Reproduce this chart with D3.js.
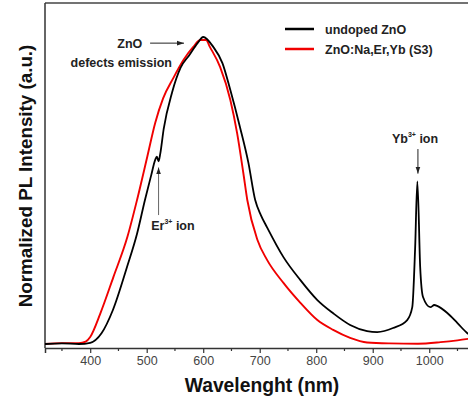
<!DOCTYPE html>
<html>
<head>
<meta charset="utf-8">
<script src="https://cdn.jsdelivr.net/npm/d3@7"></script>
<style>
  body { margin: 0; background: #fff; }
  svg text { font-family: "Liberation Sans", Arial, sans-serif; }
</style>
</head>
<body>
<svg id="chart"></svg>
<script>
// wavelength (nm) and normalized intensity
var undopedWl = [320, 350, 380, 400, 420, 440, 465, 483, 497, 508, 515, 518, 521, 524, 530, 545, 560, 575, 590, 600, 618, 634, 648, 665, 680, 692, 702, 713, 742, 772, 802, 830, 860, 890, 908, 936, 961, 970, 975, 979, 984, 989, 1002, 1009, 1014, 1032, 1050, 1067, 1080];
var undopedI  = [0.0, 0.002, 0.0, 0.004, 0.035, 0.11, 0.25, 0.36, 0.47, 0.55, 0.6, 0.61, 0.595, 0.62, 0.7, 0.82, 0.9, 0.94, 0.98, 1.0, 0.967, 0.915, 0.827, 0.707, 0.59, 0.469, 0.42, 0.38, 0.283, 0.208, 0.143, 0.1, 0.062, 0.042, 0.039, 0.052, 0.078, 0.12, 0.31, 0.53, 0.25, 0.153, 0.12, 0.127, 0.124, 0.101, 0.068, 0.036, 0.02];

var dopedWl = [320, 350, 380, 392, 400, 418, 441, 466, 483, 501, 515, 529, 547, 565, 582, 595, 605, 612, 630, 648, 660, 671, 678, 696, 713, 742, 772, 802, 830, 860, 890, 930, 980, 1020, 1050, 1080];
var dopedI  = [0.0, 0.003, 0.003, 0.008, 0.023, 0.1, 0.218, 0.35, 0.47, 0.61, 0.72, 0.8, 0.866, 0.925, 0.967, 0.99, 0.99, 0.967, 0.902, 0.795, 0.687, 0.557, 0.469, 0.339, 0.274, 0.199, 0.134, 0.078, 0.046, 0.02, 0.005, 0.002, 0.001, 0.006, 0.012, 0.02];

var seriesNames = ["undoped ZnO", "ZnO:Na,Er,Yb (S3)"];
var seriesColors = ["#000000", "#f00000"];
var majorTicks = [400, 500, 600, 700, 800, 900, 1000];
var minorTicks = [350, 450, 550, 650, 750, 850, 950, 1050];

var width = 468, height = 400;
var plotLeft = 45, plotRight = 475, plotTop = 3, plotBottom = 348;

var svg = d3.select("#chart").attr("width", width).attr("height", height);

var x = d3.scaleLinear().domain([320, 1081]).range([plotLeft, plotRight]);
var y = d3.scaleLinear().domain([-0.013, 1.1107]).range([plotBottom, plotTop]);

var line = d3.line()
  .x(function (d) { return x(d[0]); })
  .y(function (d) { return y(d[1]); })
  .curve(d3.curveMonotoneX);

var undoped = undopedWl.map(function (w, i) { return [w, undopedI[i]]; });
var doped = dopedWl.map(function (w, i) { return [w, dopedI[i]]; });

// frame
svg.append("line").attr("x1", plotLeft).attr("x2", width).attr("y1", plotTop).attr("y2", plotTop)
  .attr("stroke", "#444").attr("stroke-width", 1.6);
svg.append("line").attr("x1", plotLeft).attr("x2", plotLeft).attr("y1", plotTop).attr("y2", plotBottom)
  .attr("stroke", "#333").attr("stroke-width", 1.5);

// curves
svg.append("path").datum(doped).attr("d", line)
  .attr("fill", "none").attr("stroke", seriesColors[1]).attr("stroke-width", 1.9);
svg.append("path").datum(undoped).attr("d", line)
  .attr("fill", "none").attr("stroke", seriesColors[0]).attr("stroke-width", 1.8);

// x axis
var xAxis = svg.append("g").attr("transform", "translate(0," + plotBottom + ")");
xAxis.call(d3.axisBottom(x).tickValues(majorTicks).tickSize(5).tickFormat(d3.format("d")));
xAxis.select(".domain").attr("stroke", "#333").attr("stroke-width", 1.5);
xAxis.selectAll(".tick line").attr("stroke", "#333").attr("stroke-width", 1.2);
xAxis.selectAll(".tick text").attr("fill", "#444").attr("font-size", 12.5).attr("y", 8)
  .attr("font-family", "Liberation Sans, Arial, sans-serif");
xAxis.selectAll(".minor").data(minorTicks).enter().append("line")
  .attr("x1", function (d) { return x(d); }).attr("x2", function (d) { return x(d); })
  .attr("y1", 0).attr("y2", 3).attr("stroke", "#333").attr("stroke-width", 1.2);

// axis titles
svg.append("text").attr("x", x(704)).attr("y", 392).attr("text-anchor", "middle")
  .attr("font-size", 19.3).attr("font-weight", "bold").attr("fill", "#111")
  .text("Wavelenght (nm)");
svg.append("text").attr("transform", "translate(32," + 176 + ") rotate(-90)")
  .attr("text-anchor", "middle").attr("font-size", 18.8).attr("font-weight", "bold").attr("fill", "#111")
  .text("Normalized PL Intensity (a.u.)");

// legend
var legend = svg.append("g");
seriesNames.forEach(function (name, i) {
  var ly = 29 + i * 20;
  legend.append("line").attr("x1", 285).attr("x2", 314).attr("y1", ly).attr("y2", ly)
    .attr("stroke", seriesColors[i]).attr("stroke-width", 2.5);
  legend.append("text").attr("x", 325).attr("y", ly + 4.5)
    .attr("font-size", 12.5).attr("font-weight", "bold").attr("fill", "#222").text(name);
});

// annotations
var defs = svg.append("defs");
defs.append("marker").attr("id", "arr").attr("viewBox", "0 0 10 10")
  .attr("refX", 10).attr("refY", 5).attr("markerWidth", 7).attr("markerHeight", 7)
  .attr("orient", "auto").attr("markerUnits", "userSpaceOnUse")
  .append("path").attr("d", "M0,1.5 L10,5 L0,8.5 Z").attr("fill", "#222");

function arrow(x1, y1, x2, y2, col) {
  svg.append("line")
    .attr("x1", x(x1)).attr("y1", y(y1)).attr("x2", x(x2)).attr("y2", y(y2))
    .attr("stroke", col).attr("stroke-width", 1).attr("marker-end", "url(#arr)");
}

svg.append("text").attr("x", x(470)).attr("y", y(0.98) + 5).attr("text-anchor", "middle")
  .attr("font-size", 12.5).attr("font-weight", "bold").attr("fill", "#222").text("ZnO");
svg.append("text").attr("x", x(455)).attr("y", y(0.915) + 4).attr("text-anchor", "middle")
  .attr("font-size", 12.5).attr("font-weight", "bold").attr("fill", "#222").text("defects emission");
arrow(506, 0.98, 566, 0.98, "#222");

// Er3+ ion
arrow(521, 0.42, 521, 0.575, "#666");
var er = svg.append("text").attr("x", x(508)).attr("y", y(0.37))
  .attr("font-size", 12.5).attr("font-weight", "bold").attr("fill", "#222");
er.append("tspan").text("Er");
er.append("tspan").attr("font-size", 7).attr("dy", -6).text("3+");
er.append("tspan").attr("dy", 6).text(" ion");

// Yb3+ ion
arrow(980, 0.635, 980, 0.555, "#222");
var yb = svg.append("text").attr("x", x(934)).attr("y", y(0.655))
  .attr("font-size", 12.5).attr("font-weight", "bold").attr("fill", "#222");
yb.append("tspan").text("Yb");
yb.append("tspan").attr("font-size", 7).attr("dy", -6).text("3+");
yb.append("tspan").attr("dy", 6).text(" ion");
</script>
</body>
</html>
